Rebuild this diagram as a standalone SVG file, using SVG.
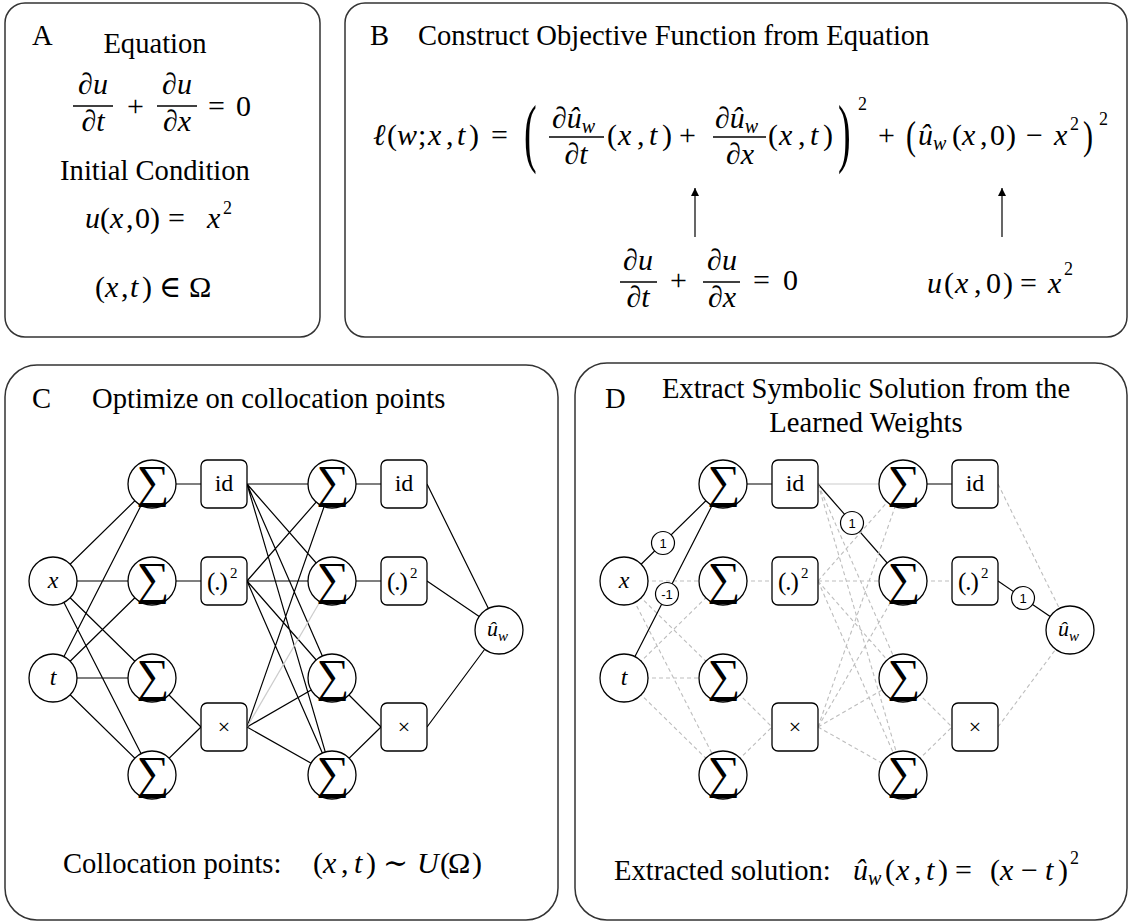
<svg xmlns="http://www.w3.org/2000/svg" width="1130" height="923" viewBox="0 0 1130 923">
<style>
.panel{fill:#fff;stroke:#333;stroke-width:1.5}
.txt{font-family:"Liberation Serif","DejaVu Serif",serif;font-size:28.6px;fill:#000}
.mi{font-family:"Liberation Serif","DejaVu Serif",serif;font-style:italic;font-size:30px;fill:#000}
.mr{font-family:"Liberation Serif","DejaVu Serif",serif;font-size:30px;fill:#000}
.sup{font-family:"Liberation Serif","DejaVu Serif",serif;font-size:18px;fill:#000}
.big{font-family:"Liberation Serif","DejaVu Serif",serif;font-size:40px;fill:#000}
.med{font-family:"Liberation Serif","DejaVu Serif",serif;font-size:30px;fill:#000}
.n{font-style:normal}
.bar{stroke:#000;stroke-width:1.3}
.e{stroke:#000;stroke-width:1.2;fill:none}
.lg{stroke:#cccccc;stroke-width:1.2;fill:none}
.d{stroke:#bdbdbd;stroke-width:1.1;stroke-dasharray:4 3;fill:none}
.nc{fill:#fff;stroke:#000;stroke-width:1.3}
.sig{font-family:"Liberation Serif","DejaVu Serif",serif;font-size:46px;text-anchor:middle}
.lab{font-family:"Liberation Serif","DejaVu Serif",serif;font-size:24px;text-anchor:middle}
.par{font-family:"Liberation Serif","DejaVu Serif",serif;font-size:25px;letter-spacing:-1px}
.s2{font-family:"Liberation Serif","DejaVu Serif",serif;font-size:15px}
.mul{font-family:"Liberation Serif","DejaVu Serif",serif;font-size:22px;text-anchor:middle}
.uh{font-family:"Liberation Serif","DejaVu Serif",serif;font-size:22px;font-style:italic}
.uw{font-family:"Liberation Serif","DejaVu Serif",serif;font-size:15px;font-style:italic}
.w{fill:#fff;stroke:#000;stroke-width:1.2}
.wt{font-family:"Liberation Sans",Arial,sans-serif;font-size:13px;text-anchor:middle}
</style>
<defs>
<marker id="ah" viewBox="0 0 10 10" refX="10" refY="5" markerWidth="8" markerHeight="8" orient="auto" markerUnits="userSpaceOnUse"><path d="M0,0 L10,5 L0,10 z" fill="#000"/></marker>
</defs>
<rect x="0" y="0" width="1130" height="923" fill="#fff"/>

<!-- Panel A -->
<g id="panelA">
<rect class="panel" x="5" y="3" width="315" height="334" rx="20"/>
<text class="txt" x="32" y="45">A</text>
<text class="txt" x="155" y="53" text-anchor="middle">Equation</text>
<text class="mi" x="93" y="94" text-anchor="middle">∂u</text>
<line class="bar" x1="73" y1="106" x2="113" y2="106"/>
<text class="mi" x="93" y="131" text-anchor="middle">∂t</text>
<text class="mr" x="127" y="116">+</text>
<text class="mi" x="177" y="94" text-anchor="middle">∂u</text>
<line class="bar" x1="157" y1="106" x2="197" y2="106"/>
<text class="mi" x="177" y="131" text-anchor="middle">∂x</text>
<text class="mr" y="116"><tspan x="208">=</tspan><tspan x="236">0</tspan></text>
<text class="txt" x="155" y="180" text-anchor="middle">Initial Condition</text>
<text class="mi" y="228"><tspan x="85">u</tspan><tspan class="n" x="100">(</tspan><tspan x="110">x</tspan><tspan class="n" x="126">,</tspan><tspan class="n" x="135">0</tspan><tspan class="n" x="150">)</tspan><tspan class="n" x="168">=</tspan><tspan x="207">x</tspan></text>
<text class="sup" x="223" y="214">2</text>
<text class="mi" y="297"><tspan class="n" x="95">(</tspan><tspan x="105">x</tspan><tspan class="n" x="121">,</tspan><tspan x="130">t</tspan><tspan class="n" x="142">)</tspan><tspan class="n" x="159">∈</tspan><tspan class="n" x="189">Ω</tspan></text>
</g>

<!-- Panel B -->
<g id="panelB">
<rect class="panel" x="345" y="3" width="782" height="334" rx="20"/>
<text class="txt" x="370" y="45">B</text>
<text class="txt" x="418" y="45">Construct Objective Function from Equation</text>
<text class="mi" y="145"><tspan x="373">ℓ</tspan><tspan class="n" x="387">(</tspan><tspan x="397">w</tspan><tspan class="n" x="418">;</tspan><tspan x="428">x</tspan><tspan class="n" x="446">,</tspan><tspan x="457">t</tspan><tspan class="n" x="469">)</tspan><tspan class="n" x="491">=</tspan></text>
<text class="big" transform="translate(524,158) scale(0.95,1.9)">(</text>
<text class="mi" y="128"><tspan x="552">∂û</tspan><tspan style="font-size:20px" dy="5">w</tspan></text>
<line class="bar" x1="549" y1="137" x2="604" y2="137"/>
<text class="mi" x="576" y="164" text-anchor="middle">∂t</text>
<text class="mi" y="145"><tspan class="n" x="607">(</tspan><tspan x="618">x</tspan><tspan class="n" x="637">,</tspan><tspan x="649">t</tspan><tspan class="n" x="662">)</tspan><tspan class="n" x="679">+</tspan></text>
<text class="mi" y="128"><tspan x="715">∂û</tspan><tspan style="font-size:20px" dy="5">w</tspan></text>
<line class="bar" x1="713" y1="137" x2="766" y2="137"/>
<text class="mi" x="740" y="164" text-anchor="middle">∂x</text>
<text class="mi" y="145"><tspan class="n" x="768">(</tspan><tspan x="779">x</tspan><tspan class="n" x="798">,</tspan><tspan x="810">t</tspan><tspan class="n" x="823">)</tspan></text>
<text class="big" transform="translate(838,158) scale(0.95,1.9)">)</text>
<text class="sup" x="858" y="110">2</text>
<text class="mr" x="878" y="145">+</text>
<text class="med" transform="translate(906,149) scale(1,1.3)">(</text>
<text class="mi" y="145"><tspan x="918">û</tspan><tspan style="font-size:20px" dy="5">w</tspan></text>
<text class="mi" y="145"><tspan class="n" x="952">(</tspan><tspan x="962">x</tspan><tspan class="n" x="980">,</tspan><tspan class="n" x="990">0</tspan><tspan class="n" x="1006">)</tspan><tspan class="n" x="1026">−</tspan><tspan x="1054">x</tspan></text>
<text class="sup" x="1070" y="130">2</text>
<text class="med" transform="translate(1083,149) scale(1,1.3)">)</text>
<text class="sup" x="1099" y="125">2</text>
<text class="mi" x="638" y="270" text-anchor="middle">∂u</text>
<line class="bar" x1="620" y1="282" x2="657" y2="282"/>
<text class="mi" x="638" y="307" text-anchor="middle">∂t</text>
<text class="mr" x="670" y="290">+</text>
<text class="mi" x="722" y="270" text-anchor="middle">∂u</text>
<line class="bar" x1="703" y1="282" x2="740" y2="282"/>
<text class="mi" x="722" y="307" text-anchor="middle">∂x</text>
<text class="mr" y="290"><tspan x="753">=</tspan><tspan x="783">0</tspan></text>
<text class="mi" y="293"><tspan x="927">u</tspan><tspan class="n" x="944">(</tspan><tspan x="955">x</tspan><tspan class="n" x="974">,</tspan><tspan class="n" x="986">0</tspan><tspan class="n" x="1003">)</tspan><tspan class="n" x="1020">=</tspan><tspan x="1048">x</tspan></text>
<text class="sup" x="1064" y="275">2</text>
</g>
<g id="arrowsB">
<line class="e" x1="695" y1="237" x2="695" y2="188" marker-end="url(#ah)"/>
<line class="e" x1="1002" y1="237" x2="1002" y2="188" marker-end="url(#ah)"/>
</g>

<!-- Panel C -->
<g id="panelC">
<rect class="panel" x="5" y="365" width="553" height="555" rx="32"/>
<text class="txt" x="32" y="408">C</text>
<text class="txt" x="92" y="408">Optimize on collocation points</text>
<text class="txt" x="63" y="873">Collocation points:</text>
<text class="mi" y="873"><tspan class="n" x="313">(</tspan><tspan x="323">x</tspan><tspan class="n" x="341">,</tspan><tspan x="354">t</tspan><tspan class="n" x="366">)</tspan><tspan class="n" x="383">∼</tspan><tspan x="417">U</tspan><tspan class="n" x="440">(</tspan><tspan class="n" x="448">Ω</tspan><tspan class="n" x="472">)</tspan></text>
</g>
<g id="edgesC">
<path class="e" d="M53,581 L152,484 M53,581 L152,581 M53,581 L152,678 M53,581 L152,775 M53,678 L152,484 M53,678 L152,581 M53,678 L152,678 M53,678 L152,775"/>
<path class="e" d="M152,484 L201,484 M152,581 L201,581 M152,678 L201,727 M152,775 L201,727"/>
<path class="e" d="M247,484 L332,484 M247,484 L332,581 M247,484 L332,678 M247,484 L332,775 M247,581 L332,484 M247,581 L332,581 M247,581 L332,678 M247,581 L332,775 M247,727 L332,484 M247,727 L332,678 M247,727 L332,775"/>
<path class="lg" d="M247,727 L332,581"/>
<path class="e" d="M332,484 L381,484 M332,581 L381,581 M332,678 L381,727 M332,775 L381,727"/>
<path class="e" d="M427,484 L499,630 M427,581 L499,630 M427,727 L499,630"/>
</g>
<g id="nodesC">
<g id="c_x"><circle class="nc" cx="53" cy="581" r="24"/><text class="lab" x="53" y="588" font-style="italic">x</text></g>
<g id="c_t"><circle class="nc" cx="53" cy="678" r="24"/><text class="lab" x="53" y="685" font-style="italic">t</text></g>
<g id="c_s11"><circle class="nc" cx="152" cy="484" r="24"/><text class="sig" x="153" y="497">∑</text></g>
<g id="c_s12"><circle class="nc" cx="152" cy="581" r="24"/><text class="sig" x="153" y="594">∑</text></g>
<g id="c_s13"><circle class="nc" cx="152" cy="678" r="24"/><text class="sig" x="153" y="691">∑</text></g>
<g id="c_s14"><circle class="nc" cx="152" cy="775" r="24"/><text class="sig" x="153" y="788">∑</text></g>
<g id="c_id1"><rect class="nc" x="201" y="460" width="46" height="48" rx="6"/><text class="lab" x="224" y="491">id</text></g>
<g id="c_sq1"><rect class="nc" x="201" y="557" width="46" height="48" rx="6"/><text class="par" x="207" y="590">(.)</text><text class="s2" x="230" y="578">2</text></g>
<g id="c_mul1"><rect class="nc" x="201" y="703" width="46" height="48" rx="6"/><text class="mul" x="224" y="734">×</text></g>
<g id="c_s21"><circle class="nc" cx="332" cy="484" r="24"/><text class="sig" x="333" y="497">∑</text></g>
<g id="c_s22"><circle class="nc" cx="332" cy="581" r="24"/><text class="sig" x="333" y="594">∑</text></g>
<g id="c_s23"><circle class="nc" cx="332" cy="678" r="24"/><text class="sig" x="333" y="691">∑</text></g>
<g id="c_s24"><circle class="nc" cx="332" cy="775" r="24"/><text class="sig" x="333" y="788">∑</text></g>
<g id="c_id2"><rect class="nc" x="381" y="460" width="46" height="48" rx="6"/><text class="lab" x="404" y="491">id</text></g>
<g id="c_sq2"><rect class="nc" x="381" y="557" width="46" height="48" rx="6"/><text class="par" x="387" y="590">(.)</text><text class="s2" x="410" y="578">2</text></g>
<g id="c_mul2"><rect class="nc" x="381" y="703" width="46" height="48" rx="6"/><text class="mul" x="404" y="734">×</text></g>
<g id="c_out"><circle class="nc" cx="499" cy="630" r="24"/><text class="uh" x="487" y="636">û</text><text class="uw" x="498" y="641">w</text></g>
</g>

<!-- Panel D -->
<g id="panelD">
<rect class="panel" x="575" y="363" width="552" height="557" rx="32"/>
<text class="txt" x="605" y="408">D</text>
<text class="txt" x="866" y="398" text-anchor="middle">Extract Symbolic Solution from the</text>
<text class="txt" x="866" y="432" text-anchor="middle">Learned Weights</text>
<text class="txt" x="614" y="880">Extracted solution:</text>
<text class="mi" y="880"><tspan x="853">û</tspan><tspan style="font-size:20px" dy="5">w</tspan><tspan class="n" x="885" dy="-5">(</tspan><tspan x="896">x</tspan><tspan class="n" x="914">,</tspan><tspan x="926">t</tspan><tspan class="n" x="938">)</tspan><tspan class="n" x="955">=</tspan><tspan class="n" x="990">(</tspan><tspan x="1000">x</tspan><tspan class="n" x="1021">−</tspan><tspan x="1045">t</tspan><tspan class="n" x="1058">)</tspan></text>
<text class="sup" x="1070" y="864">2</text>
</g>
<g id="edgesD">
<path class="d" d="M624,581 L723,581 M624,581 L723,678 M624,581 L723,775 M624,678 L723,581 M624,678 L723,678 M624,678 L723,775"/>
<path class="e" d="M624,581 L723,484 M624,678 L723,484"/>
<path class="e" d="M723,484 L772,484"/>
<path class="d" d="M723,581 L772,581 M723,678 L772,727 M723,775 L772,727"/>
<path class="lg" d="M818,484 L903,484"/>
<path class="e" d="M818,484 L903,581"/>
<path class="d" d="M818,484 L903,678 M818,484 L903,775 M818,581 L903,484 M818,581 L903,581 M818,581 L903,678 M818,581 L903,775 M818,727 L903,484 M818,727 L903,581 M818,727 L903,678 M818,727 L903,775"/>
<path class="e" d="M903,484 L952,484"/>
<path class="d" d="M903,581 L952,581 M903,678 L952,727 M903,775 L952,727"/>
<path class="d" d="M998,484 L1070,630 M998,727 L1070,630"/>
<path class="e" d="M998,581 L1070,630"/>
</g>
<g id="nodesD">
<g id="d_x"><circle class="nc" cx="624" cy="581" r="24"/><text class="lab" x="624" y="588" font-style="italic">x</text></g>
<g id="d_t"><circle class="nc" cx="624" cy="678" r="24"/><text class="lab" x="624" y="685" font-style="italic">t</text></g>
<g id="d_s11"><circle class="nc" cx="723" cy="484" r="24"/><text class="sig" x="724" y="497">∑</text></g>
<g id="d_s12"><circle class="nc" cx="723" cy="581" r="24"/><text class="sig" x="724" y="594">∑</text></g>
<g id="d_s13"><circle class="nc" cx="723" cy="678" r="24"/><text class="sig" x="724" y="691">∑</text></g>
<g id="d_s14"><circle class="nc" cx="723" cy="775" r="24"/><text class="sig" x="724" y="788">∑</text></g>
<g id="d_id1"><rect class="nc" x="772" y="460" width="46" height="48" rx="6"/><text class="lab" x="795" y="491">id</text></g>
<g id="d_sq1"><rect class="nc" x="772" y="557" width="46" height="48" rx="6"/><text class="par" x="778" y="590">(.)</text><text class="s2" x="801" y="578">2</text></g>
<g id="d_mul1"><rect class="nc" x="772" y="703" width="46" height="48" rx="6"/><text class="mul" x="795" y="734">×</text></g>
<g id="d_s21"><circle class="nc" cx="903" cy="484" r="24"/><text class="sig" x="904" y="497">∑</text></g>
<g id="d_s22"><circle class="nc" cx="903" cy="581" r="24"/><text class="sig" x="904" y="594">∑</text></g>
<g id="d_s23"><circle class="nc" cx="903" cy="678" r="24"/><text class="sig" x="904" y="691">∑</text></g>
<g id="d_s24"><circle class="nc" cx="903" cy="775" r="24"/><text class="sig" x="904" y="788">∑</text></g>
<g id="d_id2"><rect class="nc" x="952" y="460" width="46" height="48" rx="6"/><text class="lab" x="975" y="491">id</text></g>
<g id="d_sq2"><rect class="nc" x="952" y="557" width="46" height="48" rx="6"/><text class="par" x="958" y="590">(.)</text><text class="s2" x="981" y="578">2</text></g>
<g id="d_mul2"><rect class="nc" x="952" y="703" width="46" height="48" rx="6"/><text class="mul" x="975" y="734">×</text></g>
<g id="d_out"><circle class="nc" cx="1070" cy="630" r="24"/><text class="uh" x="1058" y="636">û</text><text class="uw" x="1069" y="641">w</text></g>
<g id="d_w1"><circle class="w" cx="663" cy="543" r="11.5"/><text class="wt" x="663" y="548">1</text></g>
<g id="d_w2"><circle class="w" cx="667" cy="594" r="11.5"/><text class="wt" x="667" y="599">-1</text></g>
<g id="d_w3"><circle class="w" cx="852" cy="523" r="11.5"/><text class="wt" x="852" y="528">1</text></g>
<g id="d_w4"><circle class="w" cx="1023" cy="598" r="11.5"/><text class="wt" x="1023" y="603">1</text></g>
</g>
</svg>
